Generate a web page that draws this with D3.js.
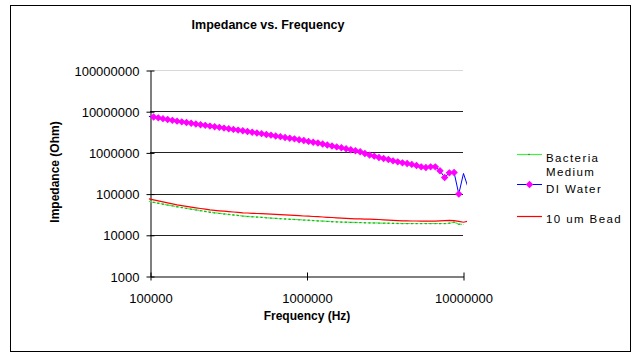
<!DOCTYPE html>
<html><head><meta charset="utf-8">
<script src="https://cdn.jsdelivr.net/npm/d3@7"></script>
<style>body{margin:0;background:#fff} svg{display:block;font-family:"Liberation Sans",Arial,sans-serif}</style>
</head><body><svg id="c" width="634" height="360"></svg>
<script>
const frequencyHz = [98401,105439,112980,121060,129718,138995,148936,159588,171002,183231,
196336,210378,225424,241546,258821,277332,297167,318420,341193,365595,
391742,419759,449780,481948,516416,553350,592925,635331,680769,729458,
781628,837529,897428,961612,1030386,1104080,1183041,1267652,1358313,1455459,
1559553,1671091,1790603,1918661,2055890,2202926,2360480,2529297,2710192,2904023,
3111716,3334264,3572728,3828247,4102041,4395416,4709773,5046612,5407543,5794287,
6208690,6652725,7128535,7638358,8184647,8770010,9397233,10069317,10789461];

const diWater = [7490000,7200000,6890000,6590000,6260000,5990000,5730000,5510000,5300000,5090000,
4900000,4710000,4530000,4350000,4210000,4050000,3890000,3740000,3620000,3480000,
3350000,3220000,3090000,2960000,2850000,2720000,2620000,2500000,2410000,2310000,
2210000,2130000,2030000,1945000,1849000,1768000,1690000,1598000,1511000,1429000,
1359000,1292000,1229000,1162000,1098000,1033000,944000,859000,812000,755000,
714000,675000,624000,590000,558000,540000,511000,483000,446000,431000,
446000,446000,357000,247000,319000,326000,98000,308000,138000];

const bead10um = [74400,70360,66530,62910,59490,56250,53190,50860,48910,47030,
45220,43480,41810,40200,39090,38230,37380,36560,35740,34950,
34180,33800,33240,32870,32500,32140,31780,31250,30900,30380,
29880,29550,29060,28580,28250,27780,27480,27020,26570,26270,
25830,25410,24990,24710,24430,24300,24030,23890,23630,23490,
23100,22720,22460,22090,21840,21720,21600,21600,21480,21480,
21360,21360,21720,21970,22340,22090,21120,20200,21360];

const bacteriaMedium = [65070,61520,58490,55640,52900,50570,48100,45980,43970,42040,
40200,38660,36970,35350,34180,33240,32140,31250,30380,29550,
28580,27950,27480,27020,26570,25980,25550,25130,24710,24300,
23890,23630,23230,22850,22590,22210,21840,21600,21240,20890,
20650,20420,20310,20090,19980,19870,19650,19540,19430,19320,
19210,19100,18990,18890,18780,18780,18780,18780,18780,18780,
18780,18780,18780,18780,19210,20310,18160,17760];

const yTickValues = [1000,10000,100000,1000000,10000000,100000000];
const xTickValues = [100000,1000000,10000000];
const titleText = "Impedance vs. Frequency";
const xTitle = "Frequency (Hz)";
const yTitle = "Impedance (Ohm)";
const legendNames = [["Bacteria","Medium"],["DI Water"],["10 um Bead"]];

const svg = d3.select("#c");
svg.append("rect").attr("x",10.5).attr("y",5.5).attr("width",620).attr("height",346)
  .attr("fill","#fff").attr("stroke","#000").attr("stroke-width",1);

const x = d3.scaleLog().domain([1e5,1e7]).range([150,463]);
const y = d3.scaleLog().domain([1e3,1e8]).range([276,70]);

// gridlines
svg.append("g").selectAll("line").data(yTickValues.filter(d=>d>1e3)).join("line")
  .attr("x1",150).attr("x2",463)
  .attr("y1",d=>Math.round(y(d))+0.5).attr("y2",d=>Math.round(y(d))+0.5)
  .attr("stroke",d=>d>=1e8?"#d8d8d8":"#222").attr("stroke-width",1);

// axes
const yAxis = d3.axisLeft(y).tickValues(yTickValues).tickFormat(d3.format("d"))
  .tickSizeInner(4).tickSizeOuter(0).tickPadding(7);
const gy = svg.append("g").attr("transform","translate(150.5,0.5)").call(yAxis);
gy.selectAll("text").attr("font-size",13).attr("font-family","Liberation Sans, Arial, sans-serif").attr("fill","#000").attr("dy","0.36em");
gy.selectAll(".tick line").attr("x2",-4).attr("x1",4).attr("stroke","#000");
gy.select(".domain").attr("stroke","#000");

const xAxis = d3.axisBottom(x).tickValues(xTickValues).tickFormat(d3.format("d"))
  .tickSizeInner(4).tickSizeOuter(0);
const gx = svg.append("g").attr("transform","translate(0.5,276.5)").call(xAxis);
gx.selectAll("text").attr("font-size",13).attr("font-family","Liberation Sans, Arial, sans-serif").attr("fill","#000")
  .attr("y",26).attr("dy",0);
gx.selectAll(".tick line").attr("y1",-4).attr("y2",4).attr("stroke","#000");
gx.select(".domain").attr("stroke","#000");

// clip
svg.append("defs").append("clipPath").attr("id","clip").append("rect")
  .attr("x",146).attr("y",60).attr("width",321).attr("height",222);

const plot = svg.append("g").attr("clip-path","url(#clip)");
const mk = vals => vals.map((v,i)=>[frequencyHz[i],v]);
const line = d3.line().x(d=>x(d[0])).y(d=>y(d[1]));

plot.append("path").datum(mk(bacteriaMedium)).attr("d",line)
  .attr("fill","none").attr("stroke","#44ee44").attr("stroke-width",1.2).attr("stroke-dasharray","3,1");
plot.append("g").selectAll("rect").data(mk(bacteriaMedium).filter(d=>d[0]>=1e5&&d[0]<=1e7)).join("rect")
  .attr("x",d=>x(d[0])-1).attr("y",d=>y(d[1])-0.5).attr("width",2).attr("height",1.2).attr("fill","#22aa22");

plot.append("path").datum(mk(bead10um)).attr("d",line)
  .attr("fill","none").attr("stroke","#ff0000").attr("stroke-width",1.2);

plot.append("path").datum(mk(diWater)).attr("d",line)
  .attr("fill","none").attr("stroke","#0000ff").attr("stroke-width",1);
const marker = d3.symbol().type(d3.symbolSquare).size(18);
plot.append("g").selectAll("path").data(mk(diWater).filter(d=>d[0]>=1e5&&d[0]<=1e7)).join("path")
  .attr("d",marker).attr("transform",d=>`translate(${x(d[0])},${y(d[1])}) rotate(45)`)
  .attr("fill","#ff00ff").attr("stroke","#ff00ff").attr("stroke-width",1);

// titles
svg.append("text").attr("x",268).attr("y",29).attr("text-anchor","middle")
  .attr("font-size",12.5).attr("font-weight","bold").text(titleText);
svg.append("text").attr("x",307).attr("y",320).attr("text-anchor","middle")
  .attr("font-size",12).attr("font-weight","bold").text(xTitle);
svg.append("text").attr("transform","translate(59,172) rotate(-90)").attr("text-anchor","middle")
  .attr("font-size",12).attr("font-weight","bold").text(yTitle);

// legend
const lg = svg.append("g");
const lx1 = 517, lx2 = 542, tx = 546;
const legendY = [154.5,184.5,216.5];
const legendBase = [[161.5,176],[192.5],[223.3]];
lg.append("line").attr("x1",lx1).attr("x2",lx2).attr("y1",legendY[0]).attr("y2",legendY[0])
  .attr("stroke","#44ee44").attr("stroke-width",1.2);
lg.append("rect").attr("x",528).attr("y",legendY[0]-0.6).attr("width",2).attr("height",1.2).attr("fill","#22aa22");
lg.append("line").attr("x1",lx1).attr("x2",lx2).attr("y1",legendY[1]).attr("y2",legendY[1])
  .attr("stroke","#0000ff").attr("stroke-width",1);
lg.append("path").attr("d",marker).attr("transform",`translate(529.5,${legendY[1]}) rotate(45)`)
  .attr("fill","#ff00ff").attr("stroke","#ff00ff").attr("stroke-width",1);
lg.append("line").attr("x1",lx1).attr("x2",lx2).attr("y1",legendY[2]).attr("y2",legendY[2])
  .attr("stroke","#ff0000").attr("stroke-width",1.2);
legendNames.forEach((lines,i)=>{
  lines.forEach((t,j)=>{
    lg.append("text").attr("x",tx).attr("y",legendBase[i][j]).attr("font-size",11.5)
      .attr("letter-spacing",1.4).text(t);
  });
});
</script></body></html>
